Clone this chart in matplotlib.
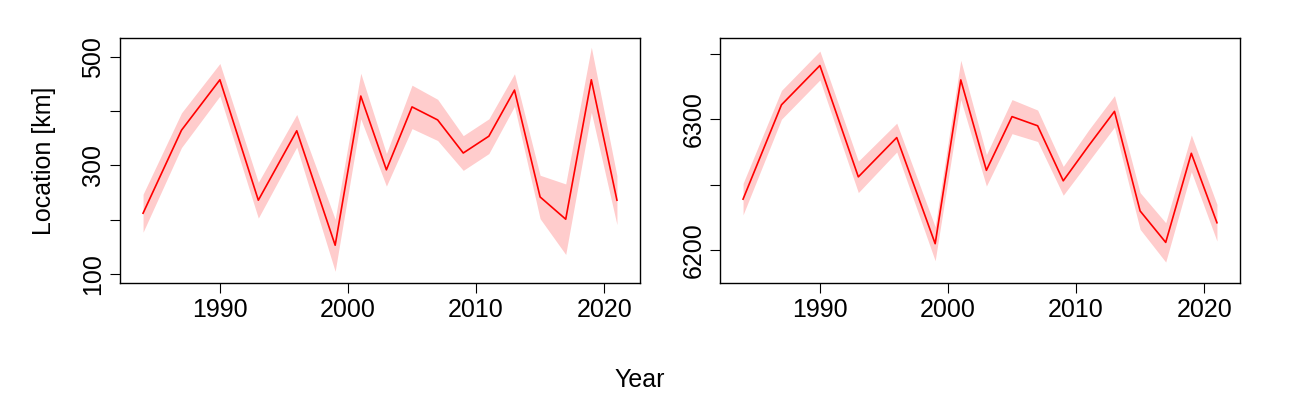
import matplotlib
matplotlib.use("Agg")
import matplotlib.pyplot as plt
import numpy as np

plt.rcParams['font.family'] = ['Liberation Sans', 'DejaVu Sans']

years = [1984,1987,1990,1993,1996,1999,2001,2003,2005,2007,2009,2011,2013,2015,2017,2019,2021]
left_val = [212,365,458,236,364,153,428,292,408,384,323,354,439,242,201,458,236]
left_err = [35,32,30,33,30,48,42,30,40,38,32,32,30,40,65,60,45]
right_val = [6239,6311,6341,6256,6286,6205,6330,6261,6302,6295,6253,6280,6306,6230,6206,6274,6221]
right_err = [12,11,11,12,11,13,15,12,13,12,11,12,12,14,15,14,14]

fig = plt.figure(figsize=(13, 4), dpi=100)
ax1 = fig.add_axes([120/1300, 1-283/400, 520/1300, 245/400])
ax2 = fig.add_axes([720/1300, 1-283/400, 520/1300, 245/400])

def draw(ax, v, e, yticks, labels, ylim):
    v = np.array(v); e = np.array(e)
    ax.fill_between(years, v-e, v+e, color='#ffcccc', linewidth=0)
    ax.plot(years, v, color='red', linewidth=1.2)
    ax.set_xlim(1982.2, 2022.8)
    ax.set_ylim(*ylim)
    ax.set_xticks([1990, 2000, 2010, 2020])
    ax.set_yticks(yticks)
    ax.set_yticklabels(labels, rotation=90, va='center')
    ax.tick_params(labelsize=18, length=7, direction='out')
    for s in ax.spines.values():
        s.set_linewidth(1)

draw(ax1, left_val, left_err, [100,200,300,400,500], ['100','','300','','500'], (83.4, 535))
draw(ax2, right_val, right_err, [6200,6250,6300,6350], ['6200','','6300',''], (6175, 6362))
ax1.set_ylabel('Location [km]', fontsize=18, labelpad=18)
fig.text(640/1300, 1-380/400, 'Year', fontsize=18, ha='center', va='center')
fig.savefig('out.png', dpi=100)
